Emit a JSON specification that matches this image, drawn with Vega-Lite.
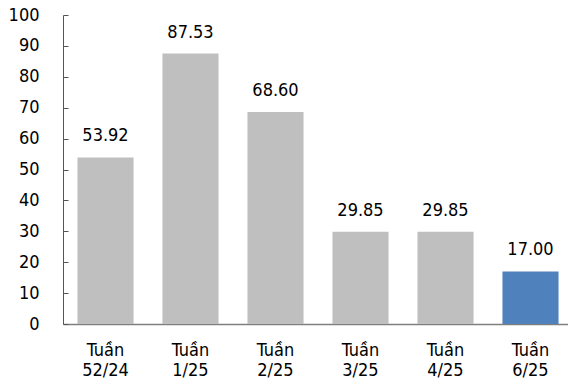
{
  "$schema": "https://vega.github.io/schema/vega-lite/v6.json",
  "width": 510,
  "height": 309,
  "autosize": {"type": "none"},
  "padding": {"left": 63, "top": 15, "right": 0, "bottom": 61},
  "background": "white",
  "config": {
    "view": {"stroke": null},
    "font": "DejaVu Sans Condensed, DejaVu Sans"
  },
  "data": {
    "values": [
      {"week": "Tuần\n52/24", "value": 53.92, "current": "no"},
      {"week": "Tuần\n1/25", "value": 87.53, "current": "no"},
      {"week": "Tuần\n2/25", "value": 68.60, "current": "no"},
      {"week": "Tuần\n3/25", "value": 29.85, "current": "no"},
      {"week": "Tuần\n4/25", "value": 29.85, "current": "no"},
      {"week": "Tuần\n6/25", "value": 17.00, "current": "yes"}
    ]
  },
  "encoding": {
    "x": {
      "field": "week",
      "type": "nominal",
      "sort": null,
      "scale": {"paddingInner": 0.34, "paddingOuter": 0.17},
      "axis": {
        "title": null,
        "labelAngle": 0,
        "labelExpr": "split(datum.label, '\\n')",
        "labelFontSize": 18,
        "labelColor": "#000000",
        "labelLineHeight": 20,
        "labelPadding": 17,
        "ticks": false,
        "domainColor": "#7f7f7f",
        "domainWidth": 1.5
      }
    },
    "y": {
      "field": "value",
      "type": "quantitative",
      "scale": {"domain": [0, 100]},
      "axis": {
        "title": null,
        "values": [0, 10, 20, 30, 40, 50, 60, 70, 80, 90, 100],
        "grid": false,
        "labelFontSize": 18,
        "labelColor": "#000000",
        "labelPadding": 29,
        "tickSize": -5,
        "tickColor": "#555555",
        "domainColor": "#555555"
      }
    }
  },
  "layer": [
    {
      "mark": {"type": "bar"},
      "encoding": {
        "color": {
          "field": "current",
          "type": "nominal",
          "scale": {"domain": ["no", "yes"], "range": ["#bfbfbf", "#4f81bd"]},
          "legend": null
        }
      }
    },
    {
      "mark": {"type": "text", "baseline": "alphabetic", "dy": -16, "fontSize": 18, "color": "#000000"},
      "encoding": {
        "text": {"field": "value", "type": "quantitative", "format": ".2f"}
      }
    }
  ]
}
